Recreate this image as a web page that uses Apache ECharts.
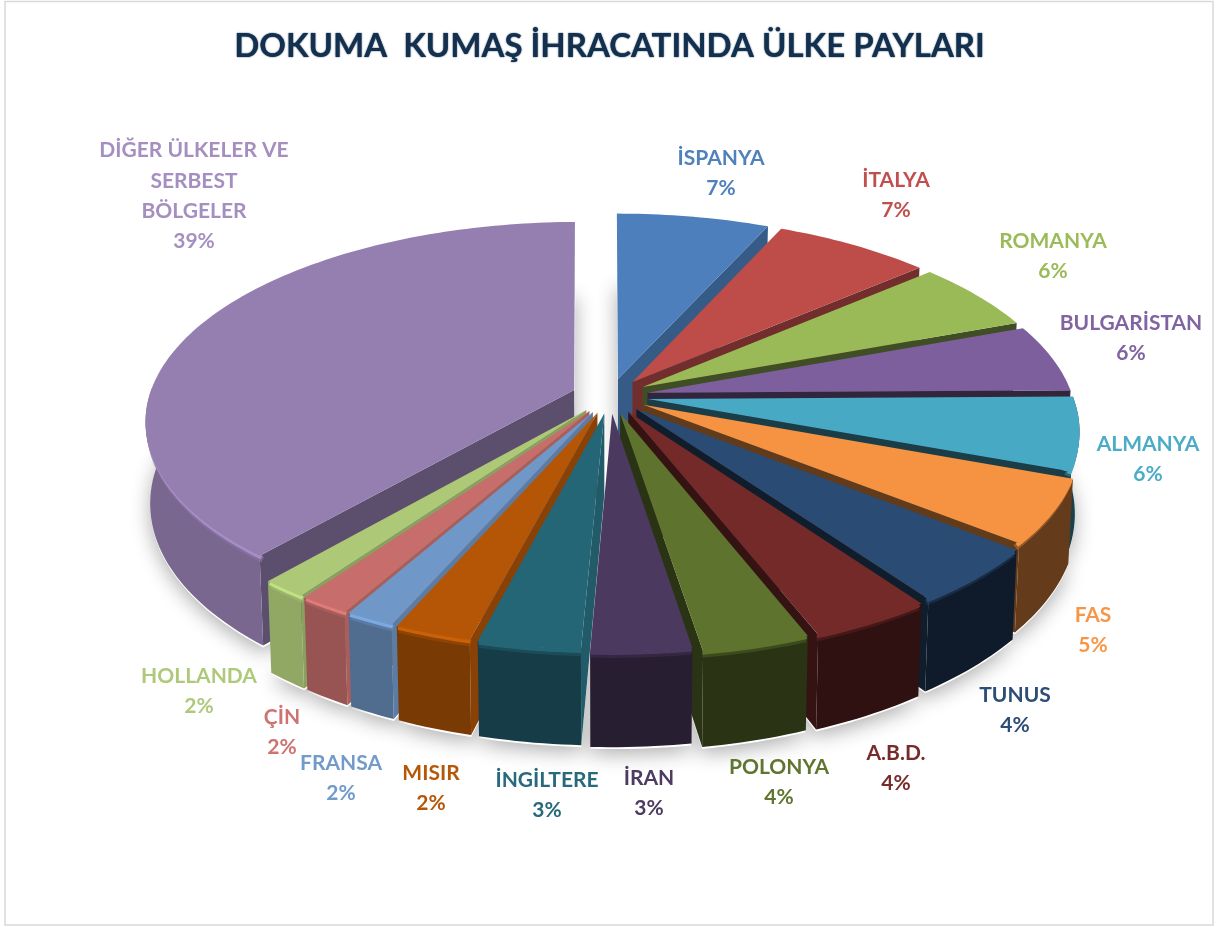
<!DOCTYPE html>
<html><head><meta charset="utf-8">
<style>html,body{margin:0;padding:0;background:#fff}#c{width:1219px;height:927px}</style>
<script src="https://cdn.jsdelivr.net/npm/echarts@6/dist/echarts.min.js"></script>
</head><body><div id="c"></div>
<script>
// ---- data ----
const titleText = 'DOKUMA  KUMAŞ İHRACATINDA ÜLKE PAYLARI';
const countries = ['İSPANYA','İTALYA','ROMANYA','BULGARİSTAN','ALMANYA','FAS','TUNUS','A.B.D.','POLONYA','İRAN','İNGİLTERE','MISIR','FRANSA','ÇİN','HOLLANDA','DİĞER ÜLKELER VE\nSERBEST\nBÖLGELER'];
const percentLabels = [7,7,6,6,6,5,4,4,4,3,3,2,2,2,2,39];
const sliceShares = [6.7,6.9,5.7,5.5,5.9,5.1,4.45,3.85,3.4,3.2,3.3,2.5,1.6,1.65,1.5,38.58];

// ---- styles and layout ----
const topColors = ['#4c7fbb','#be4c49','#99ba57','#7e5f9d','#48a9c4','#f59343','#2a4b74','#742a29','#5e742e','#4b3960','#256676','#b45606','#6f97c8','#c76e6c','#adc877','#957eb0'];
const labelColors = ['#4f81bd','#c0504d','#9bbb59','#8064a2','#4bacc6','#f79646','#2c4d75','#772c2a','#5f7530','#4d3b62','#276a7c','#b65708','#729aca','#cd7371','#afc97a','#a48fc0'];
const outerShade = [.5,.5,.4,.4,.38,.41,.36,.4,.45,.52,.6,.68,.72,.76,.84,.82];
const radialShade = [.72,.6,.42,.4,.36,.4,.38,.45,.45,.5,.88,.76,.82,.85,.8,.62];
const radiusScale = [1,1,1,1,1,1.01,1.02,1.025,1.02,1.005,1,1,1,1,1,1];
const labelCenters = [[721,173],[896,195],[1053,256],[1131,338],[1148,459],[1093,630],[1015,710],[896,768],[779,782],[649,793],[547,795],[431,788],[341,778],[282,732],[199,691],[194,196]];
const CX = 610, CY = 396, RX = 425, RY = 195, PERSP = 0.15, EXPLODE = 0.09, DEPTH = 80, BASE_SCALE = 0.99;
const FULL_CIRCLE = 100;

function shade(hex, f) {
  const n = parseInt(hex.slice(1), 16);
  const ch = s => Math.max(0, Math.min(255, Math.round(((n >> s) & 255) * f)));
  return 'rgb(' + ch(16) + ',' + ch(8) + ',' + ch(0) + ')';
}
function project(X, Y, z) {
  const w = 1 / (1 - PERSP * Y);
  const sx = z ? 1 - (1 - BASE_SCALE) * z : 1;
  return [CX + X * RX * w * sx, CY + Y * RY * w + DEPTH * z * w];
}
const starts = []; let run = 0;
sliceShares.forEach(v => { starts.push(run / FULL_CIRCLE * Math.PI * 2); run += v; });
const order = sliceShares.map((v, i) => i).sort((a, b) => {
  const m = k => starts[k] + sliceShares[k] / FULL_CIRCLE * Math.PI;
  return -Math.cos(m(a)) - -Math.cos(m(b));
});

function renderSlice(params, api) {
  const i = params.dataIndex;
  const a0 = starts[i], span = api.value(0) / FULL_CIRCLE * Math.PI * 2, a1 = a0 + span, mid = a0 + span / 2;
  const ox = Math.sin(mid) * EXPLODE, oy = -Math.cos(mid) * EXPLODE, R = radiusScale[i];
  const pt = (r, a, z) => project(ox + R * r * Math.sin(a), oy - R * r * Math.cos(a), z);
  const angles = () => { const p = [], n = Math.max(4, Math.ceil(span / 0.02));
    for (let k = 0; k <= n; k++) p.push(a0 + span * k / n); return p; };
  const arc = z => angles().map(a => pt(1, a, z));
  const frontArc = (r, z, limit) => angles().filter(a => -Math.cos(a) > limit).map(a => pt(r, a, z));
  const rank = order.indexOf(i) * 10 + 10;
  const col = topColors[i];
  const els = [];
  // soft ground shadow
  els.push({ type: 'polygon', z2: 1, shape: { points: [pt(0, 0, 1.02)].concat(arc(1.02)) },
    style: { fill: '#fff', shadowBlur: 20, shadowColor: 'rgba(0,0,0,0.32)', shadowOffsetY: 5 } });
  // radial walls that face the viewer
  if (a0 >= Math.PI) els.push({ type: 'polygon', z2: rank, shape: { points: [pt(0, 0, 0), pt(1, a0, 0), pt(1, a0, 1), pt(0, 0, 1)] },
    style: { fill: shade(col, radialShade[i]) } });
  if (a1 <= Math.PI) els.push({ type: 'polygon', z2: rank, shape: { points: [pt(0, 0, 0), pt(1, a1, 0), pt(1, a1, 1), pt(0, 0, 1)] },
    style: { fill: shade(col, radialShade[i]) } });
  // outer wall, front part only, with its bevel
  const wallTop = frontArc(1, 0, -0.03), wallBase = frontArc(1, 1, -0.03);
  if (wallTop.length > 1) {
    els.push({ type: 'polygon', z2: rank + 1, shape: { points: wallTop.concat(wallBase.reverse()) },
      style: { fill: shade(col, outerShade[i]) } });
    els.push({ type: 'polyline', z2: rank + 2, shape: { points: frontArc(0.992, 0.06, 0.02) },
      style: { fill: 'none', stroke: shade(col, (outerShade[i] + 1) / 2), lineWidth: 6, opacity: 0.7 } });
    els.push({ type: 'polyline', z2: rank + 2, shape: { points: frontArc(0.995, 0.03, 0.02) },
      style: { fill: 'none', stroke: shade(col, i >= 11 ? 1.12 : 1), lineWidth: 4 } });
  }
  // top face
  els.push({ type: 'polygon', z2: rank + 3, shape: { points: [pt(0, 0, 0)].concat(arc(0)) },
    style: { fill: col } });
  // label
  els.push({ type: 'text', z2: 1000, style: {
    text: countries[i] + '\n' + percentLabels[i] + '%', x: labelCenters[i][0], y: labelCenters[i][1],
    align: 'center', verticalAlign: 'middle', fill: labelColors[i], lineHeight: 30.3,
    shadowBlur: 1.5, shadowColor: labelColors[i],
    font: 'bold 21px Lato, "Open Sans", sans-serif' } });
  return { type: 'group', children: els };
}

const chart = echarts.init(document.getElementById('c'), null, { renderer: 'canvas', width: 1219, height: 927 });
chart.setOption({
  animation: false,
  backgroundColor: '#fff',
  title: { text: titleText, left: 'center', top: 25, textStyle: { fontFamily: 'Lato, "Open Sans", sans-serif', fontWeight: 'bold', fontSize: 33, color: '#14304f', textShadowBlur: 1.5, textShadowColor: '#14304f' } },
  graphic: [{ type: 'rect', silent: true, shape: { x: 5, y: 1.5, width: 1208, height: 923.5 }, style: { fill: 'none', stroke: '#d9d9d9', lineWidth: 1.5 } }],
  series: [{
    type: 'custom', coordinateSystem: 'none', silent: true,
    data: sliceShares.map((v, i) => ({ name: countries[i], value: [v, percentLabels[i]] })),
    encode: { value: 0 },
    renderItem: renderSlice
  }]
});
</script></body></html>
